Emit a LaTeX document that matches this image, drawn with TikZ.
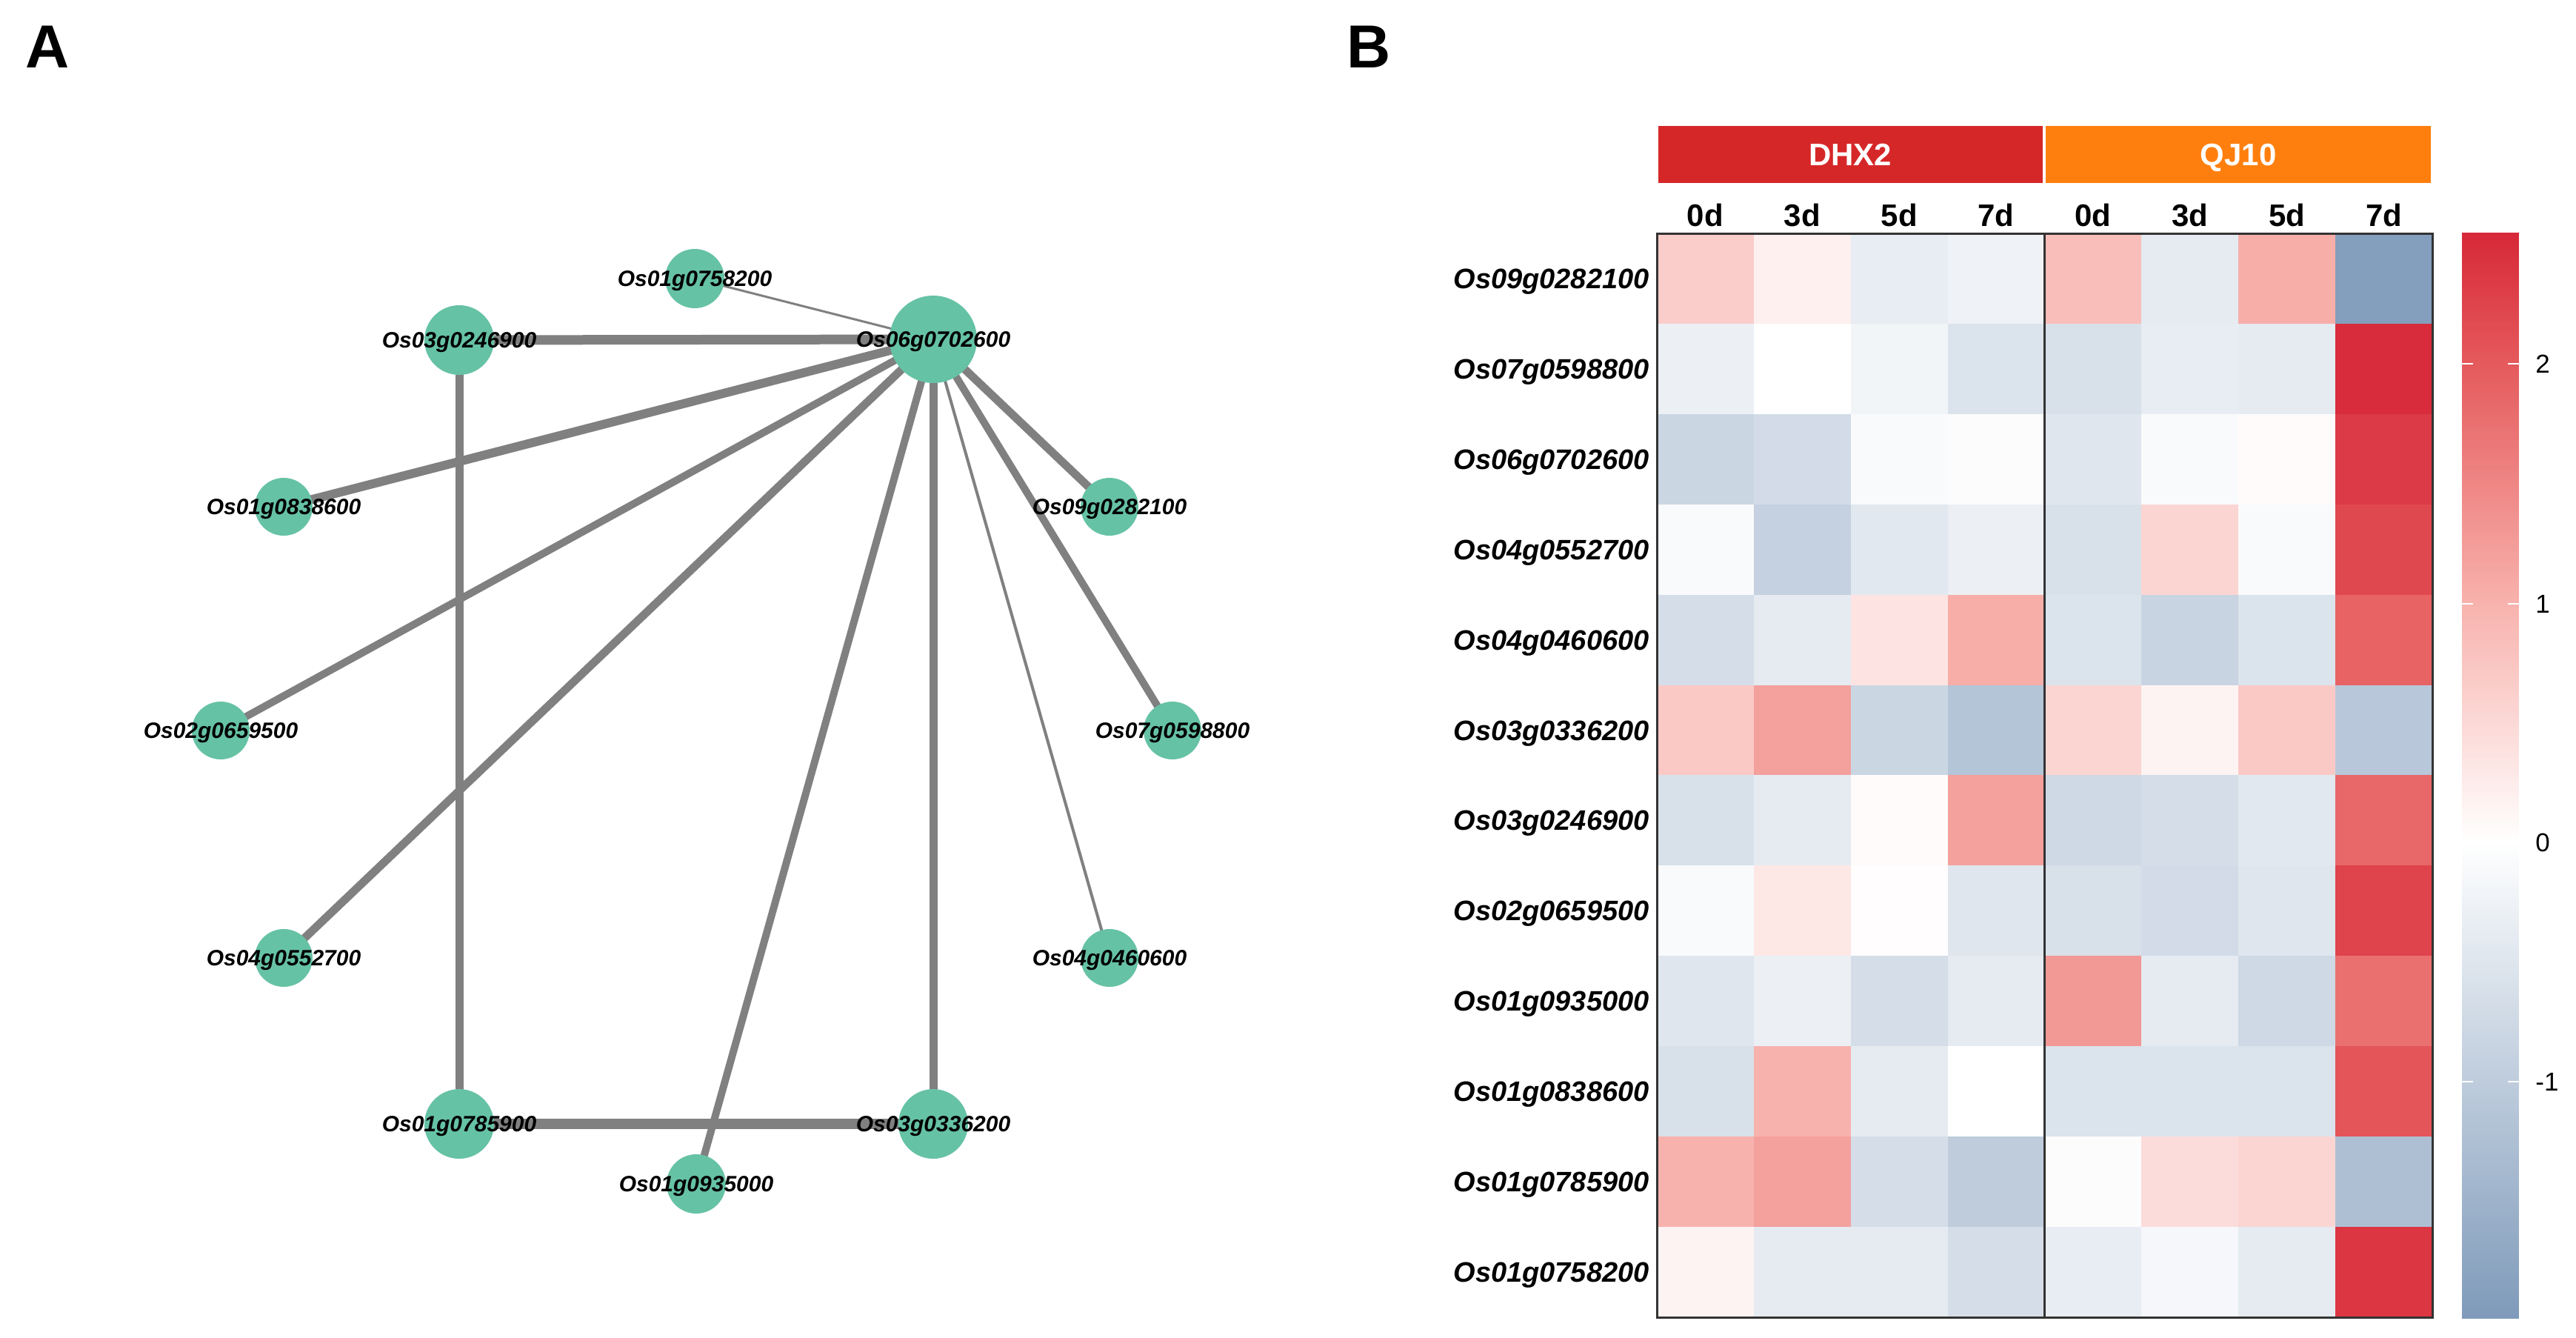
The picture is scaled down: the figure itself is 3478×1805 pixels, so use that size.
\documentclass[tikz,border=0pt]{standalone}
\usepackage{fontspec}
\setmainfont{Liberation Sans}
\definecolor{nodeg}{HTML}{66C2A5}
\definecolor{edgeg}{HTML}{808080}
\definecolor{pa}{RGB}{248,178,173}
\definecolor{pb}{RGB}{229,90,92}
\definecolor{pc}{RGB}{215,40,57}
\definecolor{hb}{RGB}{126,154,186}
\definecolor{dhx}{RGB}{214,39,40}
\definecolor{qj}{RGB}{255,127,14}
\definecolor{frm}{HTML}{333333}
\pgfdeclarelayer{bg}
\pgfsetlayers{bg,main}
\newcommand\hmcolor[1]{%
  \ifdim #1pt<0pt
    \pgfmathsetmacro\hmp{min(100,-(#1)/1.988*100)}\edef\hmc{hb!\hmp!white}%
  \else\ifdim #1pt<1pt
    \pgfmathsetmacro\hmp{(#1)*100}\edef\hmc{pa!\hmp!white}%
  \else\ifdim #1pt<2pt
    \pgfmathsetmacro\hmp{((#1)-1)*100}\edef\hmc{pb!\hmp!pa}%
  \else
    \pgfmathsetmacro\hmp{min(100,((#1)-2)/0.548*100)}\edef\hmc{pc!\hmp!pb}%
  \fi\fi\fi}
\tikzset{
  gnode/.style={circle, fill=nodeg, draw=none, inner sep=0pt},
  glabel/.style={font=\fontsize{15pt}{15pt}\selectfont\bfseries\itshape, inner sep=0pt, text height=10.7pt, text depth=0pt},
  lnk/.style={draw=edgeg, line cap=butt},
  rlabel/.style={font=\fontsize{19pt}{19pt}\selectfont\bfseries\itshape, inner sep=0pt, anchor=east, text height=13.6pt, text depth=0pt},
  clabel/.style={font=\fontsize{21pt}{21pt}\selectfont\bfseries, inner sep=0pt, text height=15pt, text depth=0pt},
  blabel/.style={font=\fontsize{21pt}{21pt}\selectfont\bfseries, text=white, inner sep=0pt, text height=15pt, text depth=0pt},
  tlabel/.style={font=\fontsize{17.5pt}{17.5pt}\selectfont, inner sep=0pt, anchor=west, text height=12.5pt, text depth=0pt},
  panel/.style={font=\fontsize{41pt}{41pt}\selectfont\bfseries, inner sep=0pt, text height=29.5pt, text depth=0pt},
}
\begin{document}
\begin{tikzpicture}[x=0.5pt,y=-0.5pt]
\useasboundingbox (0,0) rectangle (3478,1805);
\begin{pgfonlayer}{bg}
\fill[white] (0,0) rectangle (3478,1805);
\end{pgfonlayer}
% panel letters
\node[panel] (pA) at (64,62) {A};
\node[panel] (pB) at (1848,62) {B};
% network nodes
\foreach \nm/\x/\y/\r in {hub/1260/458/59, g0758/938/376/40, g0246/620/459/47,
  g0838/383/684/39, g0282/1498/684/39, g0659/298/986/39, g0598/1583/986/39,
  g0552/383/1293/39, g0460/1498/1293/39, g0785/620/1517/47, g0336/1260/1517/47,
  g0935/940/1598/40}
  \node[gnode, minimum size=\r pt] (\nm) at (\x,\y) {};
% edges
\begin{pgfonlayer}{bg}
\draw[lnk, line width=1.5pt] (hub.center) -- (g0758.center);
\draw[lnk, line width=6.5pt] (hub.center) -- (g0246.center);
\draw[lnk, line width=6pt] (hub.center) -- (g0838.center);
\draw[lnk, line width=5pt] (hub.center) -- (g0659.center);
\draw[lnk, line width=5.5pt] (hub.center) -- (g0552.center);
\draw[lnk, line width=5pt] (hub.center) -- (g0935.center);
\draw[lnk, line width=5.5pt] (hub.center) -- (g0336.center);
\draw[lnk, line width=2pt] (hub.center) -- (g0460.center);
\draw[lnk, line width=5.5pt] (hub.center) -- (g0282.center);
\draw[lnk, line width=5pt] (hub.center) -- (g0598.center);
\draw[lnk, line width=5.5pt] (g0246.center) -- (g0785.center);
\draw[lnk, line width=7pt] (g0785.center) -- (g0336.center);
\end{pgfonlayer}
% network labels
\node[glabel] (lhub) at (hub) {Os06g0702600};
\node[glabel] (l0758) at (g0758) {Os01g0758200};
\node[glabel] (l0246) at (g0246) {Os03g0246900};
\node[glabel] (l0838) at (g0838) {Os01g0838600};
\node[glabel] (l0282) at (g0282) {Os09g0282100};
\node[glabel] (l0659) at (g0659) {Os02g0659500};
\node[glabel] (l0598) at (g0598) {Os07g0598800};
\node[glabel] (l0552) at (g0552) {Os04g0552700};
\node[glabel] (l0460) at (g0460) {Os04g0460600};
\node[glabel] (l0785) at (g0785) {Os01g0785900};
\node[glabel] (l0336) at (g0336) {Os03g0336200};
\node[glabel] (l0935) at (g0935) {Os01g0935000};
% group bars
\fill[dhx] (2239,170) rectangle (2758,247);
\fill[qj] (2762,170) rectangle (3282,247);
\node[blabel] (gDHX) at (2498,208) {DHX2};
\node[blabel] (gQJ) at (3022,208) {QJ10};
% column labels
\foreach \t [count=\c] in {0d,3d,5d,7d,0d,3d,5d,7d}
  \node[clabel] (col\c) at ({2237+(\c-0.5)*130.875},290) {\t};
% heatmap cells
\foreach \row [count=\r] in {
  {0.65,0.2,-0.35,-0.25,0.85,-0.4,1.05,-1.9},
  {-0.3,0.0,-0.2,-0.55,-0.6,-0.35,-0.4,2.5},
  {-0.8,-0.7,-0.1,-0.05,-0.5,-0.1,0.05,2.35},
  {-0.1,-0.9,-0.45,-0.3,-0.6,0.55,-0.1,2.2},
  {-0.65,-0.4,0.35,1.05,-0.55,-0.85,-0.55,1.9},
  {0.7,1.2,-0.8,-1.15,0.55,0.15,0.7,-1.1},
  {-0.6,-0.4,0.05,1.2,-0.75,-0.65,-0.45,1.85},
  {-0.1,0.3,0.03,-0.5,-0.6,-0.7,-0.5,2.25},
  {-0.5,-0.3,-0.65,-0.4,1.3,-0.4,-0.75,1.75},
  {-0.6,1.0,-0.4,0.0,-0.55,-0.55,-0.55,2.05},
  {1.0,1.2,-0.65,-1.0,-0.05,0.45,0.55,-1.25},
  {0.15,-0.4,-0.4,-0.65,-0.35,-0.15,-0.4,2.4}} {
  \foreach \v [count=\c] in \row {
    \hmcolor{\v}
    \fill[fill=\hmc] ({2237+(\c-1)*130.875},{315+(\r-1)*121.9}) rectangle ++(131.5,122.5);
  }
}
\draw[frm, line width=1.5pt] (2237,315) rectangle (3284,1778);
\draw[frm, line width=1.5pt] (2760,315) -- (2760,1778);
% row labels
\foreach \g [count=\r] in {Os09g0282100,Os07g0598800,Os06g0702600,Os04g0552700,
  Os04g0460600,Os03g0336200,Os03g0246900,Os02g0659500,Os01g0935000,
  Os01g0838600,Os01g0785900,Os01g0758200}
  \node[rlabel] (row\r) at (2227,{315+(\r-0.5)*121.9}) {\g};
% colour bar
\foreach \i in {0,...,292} {
  \pgfmathsetmacro\yy{314+\i*5}
  \pgfmathsetmacro\vv{(1137-(\yy+2.5))/323}
  \hmcolor{\vv}
  \fill[fill=\hmc] (3324,\yy) rectangle (3401,\yy+5.6);
}
\foreach \ty/\tn/\tt in {491/t2/2, 815/t1/1, 1137/t0/0, 1460/tm/-1} {
  \draw[white, line width=1pt] (3324,\ty) -- (3339,\ty);
  \draw[white, line width=1pt] (3386,\ty) -- (3401,\ty);
  \node[tlabel] (\tn) at (3423,\ty) {\tt};
}
\end{tikzpicture}
\end{document}
